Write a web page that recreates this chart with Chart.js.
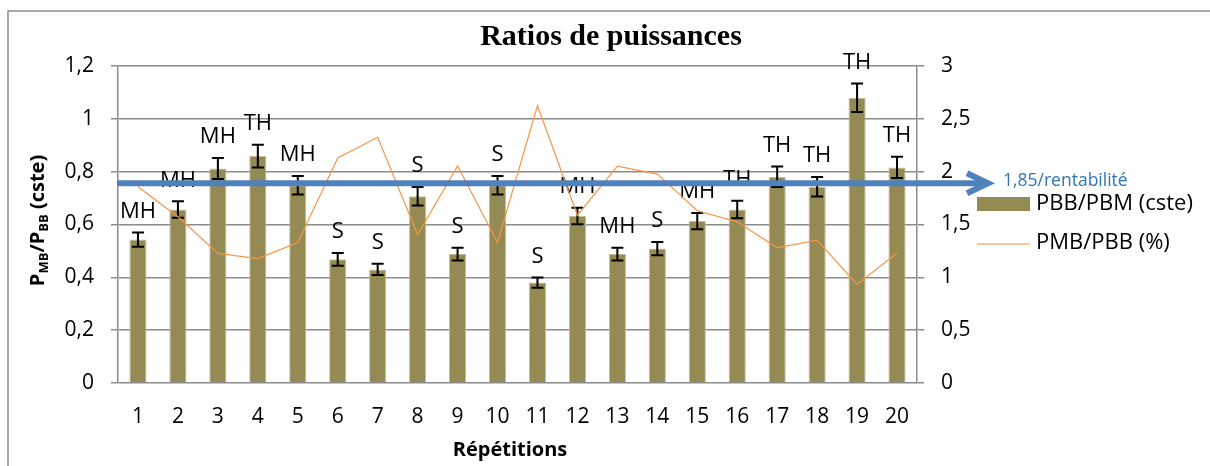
<!DOCTYPE html>
<html lang="fr">
<head>
<meta charset="utf-8">
<title>Ratios de puissances</title>
<script src="https://cdn.jsdelivr.net/npm/chart.js@4.4.1/dist/chart.umd.min.js"></script>
<style>
  html, body { margin: 0; padding: 0; background: #fff; }
  #wrap { position: relative; width: 1210px; height: 466px; }
</style>
</head>
<body>
<div id="wrap"><canvas id="ratios-chart"></canvas></div>
<script>
/* ============================================================
   RATIOS DE PUISSANCES — bars + error bars + ratio line
   ============================================================ */

// ── DATA ─────────────────────────────────────────────────────
const repetitions = ['1','2','3','4','5','6','7','8','9','10','11','12','13','14','15','16','17','18','19','20'];
const pbbPbm      = [0.543, 0.657, 0.812, 0.859, 0.749, 0.468, 0.430, 0.707, 0.488, 0.749,
                     0.380, 0.632, 0.488, 0.509, 0.613, 0.657, 0.781, 0.743, 1.080, 0.816];
const pbbPbmErr   = [0.027, 0.031, 0.040, 0.043, 0.035, 0.024, 0.021, 0.035, 0.024, 0.035,
                     0.019, 0.031, 0.024, 0.025, 0.031, 0.033, 0.039, 0.037, 0.054, 0.040];
const classes     = ['MH','MH','MH','TH','MH','S','S','S','S','S',
                     'S','MH','MH','S','MH','TH','TH','TH','TH','TH'];
const pmbPbb      = [1.857, 1.573, 1.226, 1.178, 1.330, 2.130, 2.325, 1.405, 2.053, 1.330,
                     2.624, 1.588, 2.053, 1.977, 1.630, 1.525, 1.279, 1.352, 0.932, 1.231];
const leftTicks   = [0, 0.2, 0.4, 0.6, 0.8, 1, 1.2];
const rightTicks  = [0, 0.5, 1, 1.5, 2, 2.5, 3];
const seuil       = 1.89;               // drawn on the right axis
const seuilLabel  = '1,85/rentabilité';

// ── STYLE ────────────────────────────────────────────────────
const C = {
  bar: '#948a54', barEdge: '#c4bd97', line: '#f79646', legendLine: '#f9b27a',
  arrow: '#4f81bd', arrowText: '#2e75b6', grid: '#8c8c8c', text: '#000',
};
const SANS  = "'Open Sans', 'Noto Sans', sans-serif";
const SERIF = "'Liberation Serif', 'DejaVu Serif', serif";

const fr = (v) => String(Math.round(v * 10) / 10).replace('.', ',');

// ── CUSTOM DRAWING ───────────────────────────────────────────
const decorations = {
  id: 'decorations',

  // error bars + class labels right after the bars
  afterDatasetDraw(chart, args) {
    if (args.index !== 0) return;
    const { ctx } = chart;
    const y = chart.scales.y;
    ctx.save();
    ctx.strokeStyle = C.text;
    ctx.lineWidth = 2;
    ctx.fillStyle = C.text;
    ctx.font = `22px ${SANS}`;
    ctx.textAlign = 'center';
    ctx.textBaseline = 'middle';
    chart.getDatasetMeta(0).data.forEach((bar, i) => {
      const top = y.getPixelForValue(pbbPbm[i] + pbbPbmErr[i]);
      const bot = y.getPixelForValue(pbbPbm[i] - pbbPbmErr[i]);
      ctx.beginPath();
      ctx.moveTo(bar.x, top);     ctx.lineTo(bar.x, bot);
      ctx.moveTo(bar.x - 6, top); ctx.lineTo(bar.x + 6, top);
      ctx.moveTo(bar.x - 6, bot); ctx.lineTo(bar.x + 6, bot);
      ctx.stroke();
      ctx.fillText(classes[i], bar.x, top - 21);
    });
    ctx.restore();
  },

  // threshold arrow on top of everything in the plot
  afterDatasetsDraw(chart) {
    const { ctx, chartArea } = chart;
    const yPx = chart.scales.y1.getPixelForValue(seuil);
    const xEnd = 988;
    ctx.save();
    ctx.strokeStyle = C.arrow;
    ctx.lineWidth = 6;
    ctx.beginPath();
    ctx.moveTo(chartArea.left - 1, yPx);
    ctx.lineTo(xEnd - 3, yPx);
    ctx.stroke();
    ctx.lineJoin = 'miter';
    ctx.beginPath();
    ctx.moveTo(xEnd - 21, yPx - 10);
    ctx.lineTo(xEnd, yPx);
    ctx.lineTo(xEnd - 21, yPx + 10);
    ctx.stroke();
    ctx.fillStyle = C.arrowText;
    ctx.font = `17.5px ${SANS}`;
    ctx.textAlign = 'left';
    ctx.textBaseline = 'middle';
    ctx.fillText(seuilLabel, 1003, yPx - 2);
    ctx.restore();
  },

  // title, axis titles, legend, outer frame
  afterDraw(chart) {
    const { ctx, chartArea } = chart;
    ctx.save();

    ctx.strokeStyle = C.grid;
    ctx.lineWidth = 1.5;
    ctx.strokeRect(8, 11, 1400, 600);

    ctx.fillStyle = C.text;
    ctx.textAlign = 'center';
    ctx.textBaseline = 'middle';
    ctx.font = `bold 30px ${SERIF}`;
    ctx.fillText('Ratios de puissances', 611, 37);

    ctx.font = `bold 20px ${SANS}`;
    ctx.fillText('Répétitions', 510, 450);

    // rotated left title with subscripts
    const parts = [
      { t: 'P', sub: false }, { t: 'MB', sub: true }, { t: '/P', sub: false },
      { t: 'BB', sub: true }, { t: ' (cste)', sub: false },
    ];
    const mainFont = `bold 20px ${SANS}`;
    const subFont  = `bold 13px ${SANS}`;
    let total = 0;
    parts.forEach(p => { ctx.font = p.sub ? subFont : mainFont; p.w = ctx.measureText(p.t).width; total += p.w; });
    ctx.translate(37, (chartArea.top + chartArea.bottom) / 2 - 4);
    ctx.rotate(-Math.PI / 2);
    ctx.textAlign = 'left';
    ctx.textBaseline = 'alphabetic';
    let x = -total / 2;
    parts.forEach(p => {
      ctx.font = p.sub ? subFont : mainFont;
      ctx.fillText(p.t, x, p.sub ? 11 : 7);
      x += p.w;
    });
    ctx.setTransform(1, 0, 0, 1, 0, 0);

    // legend
    ctx.fillStyle = C.bar;
    ctx.fillRect(977, 197, 53, 14);
    ctx.strokeStyle = C.legendLine;
    ctx.lineWidth = 1.5;
    ctx.beginPath();
    ctx.moveTo(977, 244); ctx.lineTo(1030, 244);
    ctx.stroke();
    ctx.fillStyle = C.text;
    ctx.font = `22px ${SANS}`;
    ctx.textAlign = 'left';
    ctx.textBaseline = 'middle';
    ctx.fillText('PBB/PBM (cste)', 1036, 204);
    ctx.fillText('PMB/PBB (%)', 1036, 243);

    ctx.restore();
  },
};

// ── CHART ────────────────────────────────────────────────────
new Chart(document.getElementById('ratios-chart'), {
  type: 'bar',
  data: {
    labels: repetitions,
    datasets: [
      {
        type: 'bar',
        label: 'PBB/PBM (cste)',
        data: pbbPbm,
        yAxisID: 'y',
        backgroundColor: C.bar,
        borderColor: C.barEdge,
        borderWidth: 1,
        barPercentage: 0.43,
        categoryPercentage: 1,
        order: 2,
      },
      {
        type: 'line',
        label: 'PMB/PBB (%)',
        data: pmbPbb,
        yAxisID: 'y1',
        borderColor: C.line,
        borderWidth: 1.2,
        pointRadius: 0,
        tension: 0,
        fill: false,
        order: 1,
      },
    ],
  },
  options: {
    responsive: true,
    maintainAspectRatio: false,
    animation: false,
    layout: { autoPadding: false, padding: { top: 66, bottom: 0, left: 0, right: 0 } },
    plugins: { legend: { display: false }, tooltip: { enabled: false }, title: { display: false } },
    scales: {
      x: {
        grid: { display: true, drawOnChartArea: false, drawTicks: false },
        border: { display: false },
        ticks: { color: C.text, font: { family: SANS, size: 21 }, padding: 21, maxRotation: 0 },
        afterFit: (s) => { s.height = 83; },
      },
      y: {
        position: 'left',
        min: 0, max: 1.2,
        afterBuildTicks: (s) => { s.ticks = leftTicks.map(v => ({ value: v })); },
        grid: { color: C.grid, lineWidth: 1.5, tickLength: 7 },
        border: { display: true, color: C.grid, width: 1.5 },
        ticks: { color: C.text, font: { family: SANS, size: 21 }, padding: 17, callback: (v) => fr(v) },
        afterFit: (s) => { s.width = 118; },
      },
      y1: {
        position: 'right',
        min: 0, max: 3,
        afterBuildTicks: (s) => { s.ticks = rightTicks.map(v => ({ value: v })); },
        grid: { drawOnChartArea: false, color: C.grid, lineWidth: 1.5, tickLength: 7 },
        border: { display: true, color: C.grid, width: 1.5 },
        ticks: { color: C.text, font: { family: SANS, size: 21 }, padding: 17, callback: (v) => fr(v) },
        afterFit: (s) => { s.width = 1210 - 917; },
      },
    },
  },
  plugins: [decorations],
});
</script>
</body>
</html>
